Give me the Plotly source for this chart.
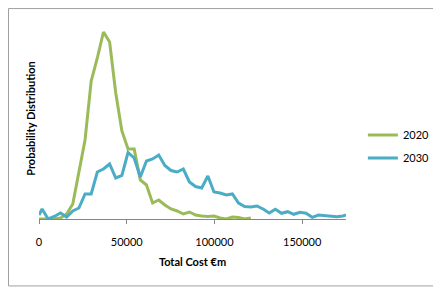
import plotly.graph_objects as go

# Bin centres (Total Cost, €m)
x_2020 = [0, 1750, 5250, 8750, 12250, 15750, 19250, 22750, 26250, 29750, 33250,
          36750, 40250, 43750, 47250, 50750, 54250, 57750, 61250, 64750, 68250,
          71750, 75250, 78750, 82250, 85750, 89250, 92750, 96250, 99750, 103250,
          106750, 110250, 113750, 117250, 120750]
y_2020 = [0, 0, 0, 0, 1, 5, 15, 46, 79, 138, 161,
          187, 177, 126, 88, 70, 70, 39, 34, 16, 19,
          14, 10, 8, 5, 7, 4, 3, 2.5, 3, 1,
          0, 2, 1.5, 0, 1]

x_2030 = [0, 1750, 5250, 8750, 12250, 15750, 19250, 22750, 26250, 29750, 33250,
          36750, 40250, 43750, 47250, 50750, 54250, 57750, 61250, 64750, 68250,
          71750, 75250, 78750, 82250, 85750, 89250, 92750, 96250, 99750, 103250,
          106750, 110250, 113750, 117250, 120750, 124250, 127750, 131250, 134750, 138250,
          141750, 145250, 148750, 152250, 155750, 159250, 162750, 166250, 169750, 173250,
          175000]
y_2030 = [4, 10, 0, 2.5, 6, 2, 8, 11, 25, 25, 47,
          50, 55, 41, 43.5, 66.5, 61, 42, 58, 60, 64,
          53.5, 48.5, 47, 50, 37, 32.5, 31, 43, 27, 26,
          24, 25, 16, 12.5, 12, 13, 10, 6, 9.7, 5.7,
          7.3, 4.7, 6.7, 5.7, 1.7, 4, 3.3, 2.3, 2.3, 3,
          4]

x_tick_vals = [0, 50000, 100000, 150000]
x_tick_text = ["0", "50000", "100000", "150000"]

FONT = "Lato, 'Open Sans', sans-serif"
GREEN = "#9BBB59"
BLUE = "#4BACC6"
AXIS = "#868686"

fig = go.Figure()
fig.add_trace(go.Scatter(x=x_2020, y=y_2020, mode="lines", name="2020",
                         legendgroup="a",
                         line=dict(color=GREEN, width=3)))
fig.add_trace(go.Scatter(x=x_2030, y=y_2030, mode="lines", name="2030",
                         legendgroup="b",
                         line=dict(color=BLUE, width=3)))

# page body has an 8px default margin, so the figure is sized to fit the window
fig.update_layout(
    width=433, height=281,
    margin=dict(l=31, r=95, t=10, b=70, autoexpand=False),
    paper_bgcolor="white", plot_bgcolor="white",
    font=dict(family=FONT, size=11, color="#000000"),
    showlegend=True,
    legend=dict(x=1.055, y=0.49, xanchor="left", yanchor="top",
                traceorder="grouped", tracegroupgap=4, itemwidth=30,
                borderwidth=0,
                font=dict(family=FONT, size=11, color="#000000"),
                bgcolor="rgba(0,0,0,0)"),
    xaxis=dict(range=[0, 175000], tickvals=x_tick_vals, ticktext=x_tick_text,
               ticks="outside", ticklen=4, tickcolor=AXIS, tickwidth=1,
               ticklabelstandoff=9, automargin=False,
               showline=True, linecolor=AXIS, linewidth=1,
               showgrid=False, zeroline=False,
               title=dict(text="<b>Total Cost €m</b>", standoff=11,
                          font=dict(family=FONT, size=11))),
    yaxis=dict(range=[0, 201], showline=False, showticklabels=False,
               showgrid=False, zeroline=False, ticks="", automargin=False,
               title=dict(text="<b>Probability Distribution</b>", standoff=0,
                          font=dict(family=FONT, size=11))),
    shapes=[dict(type="rect", xref="paper", yref="paper",
                 x0=-0.0993, x1=1.33, y0=-0.333, y1=1.047,
                 line=dict(color="#A0A0A0", width=1), fillcolor="rgba(0,0,0,0)",
                 layer="below")],
)

fig.write_html("out.html")
